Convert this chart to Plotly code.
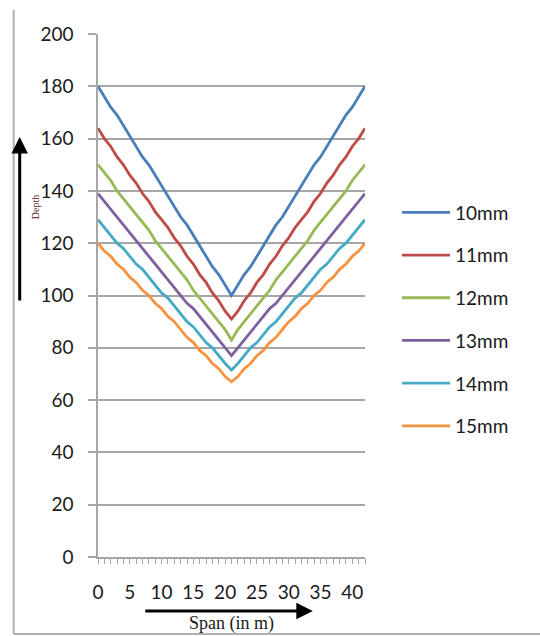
import plotly.graph_objects as go

# Span positions (m)
span = list(range(0, 43))

# Depth values for each bar diameter along the span
d10 = [180, 176, 172, 169, 165, 161, 157, 153, 150, 146, 142, 138, 134, 130, 127, 123, 119, 115, 111, 108, 104,
       100,
       104, 108, 111, 115, 119, 123, 127, 130, 134, 138, 142, 146, 150, 153, 157, 161, 165, 169, 172, 176, 180]
d11 = [164, 160, 157, 153, 150, 146, 143, 139, 136, 132, 129, 126, 122, 119, 115, 112, 108, 105, 101, 98, 94,
       91,
       94, 98, 101, 105, 108, 112, 115, 119, 122, 126, 129, 132, 136, 139, 143, 146, 150, 153, 157, 160, 164]
d12 = [150, 147, 144, 140, 137, 134, 131, 128, 125, 121, 118, 115, 112, 109, 106, 102, 99, 96, 93, 90, 87,
       83,
       87, 90, 93, 96, 99, 102, 106, 109, 112, 115, 118, 121, 125, 128, 131, 134, 137, 140, 144, 147, 150]
d13 = [139, 136, 133, 130, 127, 124, 121, 118, 115, 112, 109, 106, 103, 100, 97, 95, 92, 89, 86, 83, 80,
       77,
       80, 83, 86, 89, 92, 95, 97, 100, 103, 106, 109, 112, 115, 118, 121, 124, 127, 130, 133, 136, 139]
d14 = [129, 126, 123, 120, 118, 115, 112, 110, 107, 104, 101, 99, 96, 93, 90, 88, 85, 82, 80, 77, 74,
       71.5,
       74, 77, 80, 82, 85, 88, 90, 93, 96, 99, 101, 104, 107, 110, 112, 115, 118, 120, 123, 126, 129]
d15 = [120, 117, 115, 112, 110, 107, 105, 102, 100, 97, 95, 92, 90, 87, 84, 82, 79, 77, 74, 72, 69,
       67,
       69, 72, 74, 77, 79, 82, 84, 87, 90, 92, 95, 97, 100, 102, 105, 107, 110, 112, 115, 117, 120]

series_names = ["10mm", "11mm", "12mm", "13mm", "14mm", "15mm"]
series_values = [d10, d11, d12, d13, d14, d15]
colors = ["#4A7EBB", "#BE4B48", "#98B954", "#7D60A0", "#46AAC5", "#F69240"]

y_ticks = [0, 20, 40, 60, 80, 100, 120, 140, 160, 180, 200]
x_ticks = [0, 5, 10, 15, 20, 25, 30, 35, 40]

fig = go.Figure()
for i, (name, vals, col) in enumerate(zip(series_names, series_values, colors)):
    fig.add_trace(go.Scatter(
        x=span, y=vals, mode="lines", name=name,
        line=dict(color=col, width=2.8),
        legendgroup=f"g{i}",
    ))

grey = "#A6A6A6"
font_family = "Lato, 'Open Sans', sans-serif"

# plot area spans 266 x 523 px; helpers convert page pixels to paper coords
def px(x):
    return (x - 98) / 266


def py(y):
    return (557 - y) / 523


fig.update_layout(
    width=540, height=636,
    margin=dict(l=98, r=175, t=34, b=79),
    paper_bgcolor="white", plot_bgcolor="white",
    font=dict(family=font_family, size=19, color="#1a1a1a"),
    showlegend=True,
    legend=dict(
        x=1.12, y=0.695, xanchor="left", yanchor="top",
        font=dict(family=font_family, size=19, color="#1a1a1a"),
        tracegroupgap=15, itemwidth=48,
        bgcolor="rgba(0,0,0,0)",
    ),
    xaxis=dict(
        range=[0, 42], tickmode="array", tickvals=x_ticks,
        showgrid=False, zeroline=False,
        showline=True, linecolor=grey, linewidth=1.5,
        ticks="outside", ticklen=5, tickcolor=grey, tickwidth=1,
        minor=dict(dtick=1, ticks="outside", ticklen=5, tickcolor=grey, tickwidth=1),
        ticklabelstandoff=12,
        tickfont=dict(size=19),
    ),
    yaxis=dict(
        range=[0, 200], tickmode="array", tickvals=y_ticks,
        showgrid=True, gridcolor=grey, gridwidth=1.5,
        zeroline=False,
        showline=True, linecolor=grey, linewidth=1.5,
        ticks="outside", ticklen=8, tickcolor=grey, tickwidth=1.5,
        ticklabelstandoff=11,
        tickfont=dict(size=19),
    ),
)

# Chart area border (left, bottom, right edges)
fig.add_shape(type="line", xref="paper", yref="paper",
              x0=px(14), x1=px(14), y0=py(10), y1=py(634),
              line=dict(color="#B0B0B0", width=2))
fig.add_shape(type="line", xref="paper", yref="paper",
              x0=px(14), x1=px(539), y0=py(634), y1=py(634),
              line=dict(color="#B0B0B0", width=2))
fig.add_shape(type="line", xref="paper", yref="paper",
              x0=px(539), x1=px(539), y0=py(10), y1=py(634),
              line=dict(color="#D0D0D0", width=1))

# Direction arrows with axis captions
fig.add_annotation(xref="paper", yref="paper", x=px(20), y=py(137),
                   axref="pixel", ayref="pixel", ax=0, ay=165,
                   showarrow=True, arrowhead=2, arrowsize=1.1, arrowwidth=3, arrowcolor="black", text="")
fig.add_annotation(xref="paper", yref="paper", x=px(312), y=py(611),
                   axref="pixel", ayref="pixel", ax=-169, ay=0,
                   showarrow=True, arrowhead=2, arrowsize=1.1, arrowwidth=3, arrowcolor="black", text="")
fig.add_annotation(xref="paper", yref="paper", x=px(29), y=py(193),
                   text="Depth", textangle=-90, showarrow=False,
                   font=dict(family="'Liberation Serif', serif", size=10, color="#5a1a1a"))
fig.add_annotation(xref="paper", yref="paper", x=px(231), y=py(636),
                   text="Span (in m)", showarrow=False,
                   font=dict(family="'Liberation Serif', serif", size=18, color="#1a1a1a"))

fig.write_html("out.html")
